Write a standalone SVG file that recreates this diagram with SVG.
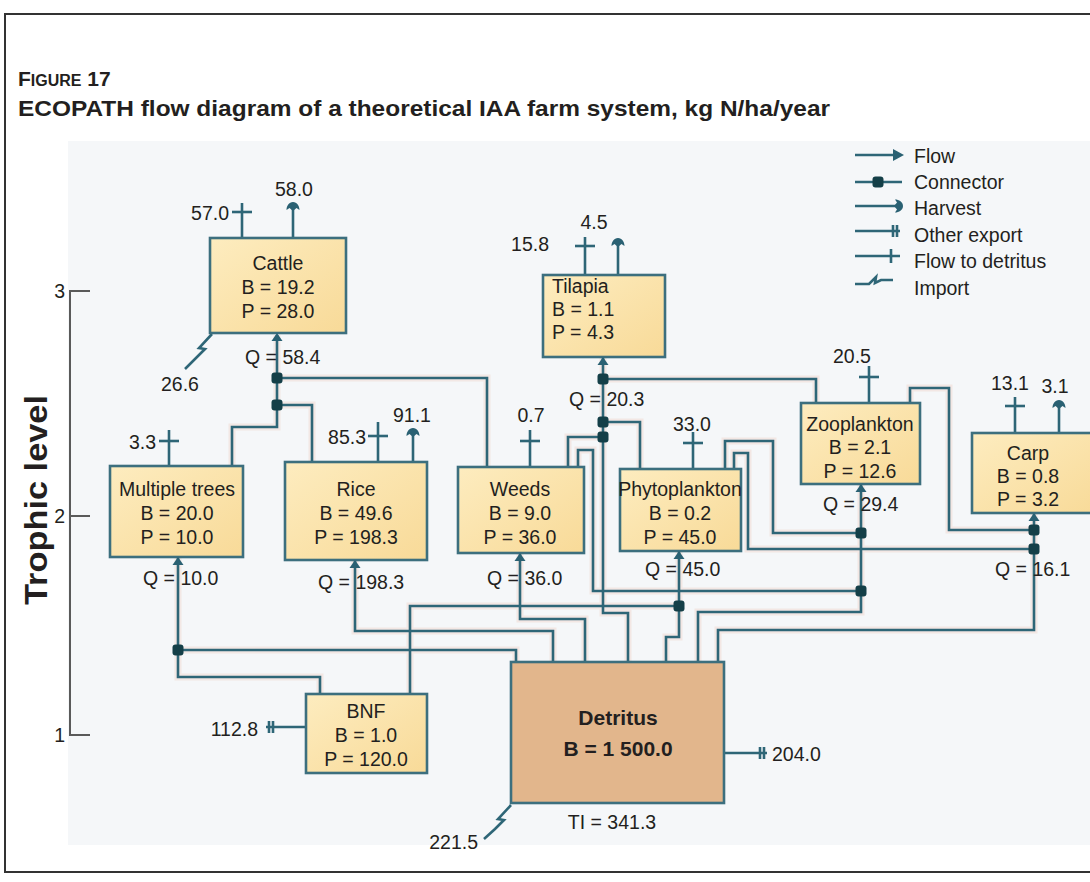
<svg xmlns="http://www.w3.org/2000/svg" width="1090" height="882" viewBox="0 0 1090 882">
  <style>
    .t { font-family: "Liberation Sans", Arial, sans-serif; font-size: 19.5px; fill: #231f20; }
    .b { font-weight: bold; }
    .c { text-anchor: middle; }
    .e { text-anchor: end; }
    .ln { fill: none; stroke: #2e6677; stroke-width: 2.6; }
    .halo { fill: none; stroke: #f2d9d1; stroke-width: 7; opacity: 0.5; }
    .box { fill: url(#boxFill); stroke: #3c6f7e; stroke-width: 2.6; }
    .det { fill: #e2b68c; stroke: #3c6f7e; stroke-width: 2.6; }
    .dot { fill: #143f48; }
    .hd { fill: #2a6173; }
    .ax { fill: none; stroke: #5a5a5a; stroke-width: 2; }
  </style>
  <defs>
    <linearGradient id="boxFill" x1="0" y1="0" x2="1" y2="1">
      <stop offset="0" stop-color="#fdecbf"/>
      <stop offset="1" stop-color="#f8da98"/>
    </linearGradient>
    <!-- connector node -->
    <rect id="dot" class="dot" x="-5.5" y="-5.5" width="11" height="11" rx="3"/>
    <!-- consumption arrowhead, tip at origin, pointing up -->
    <path id="qarr" class="hd" d="M0,0 L-5.5,8 L5.5,8 Z"/>
    <!-- harvest head, tip at origin, pointing up -->
    <path id="harv" class="hd" d="M0,0 C4,0 6.5,4 6.5,8 L3.5,6 L0,9 L-3.5,6 L-6.5,8 C-6.5,4 -4,0 0,0 Z"/>
    <!-- flow-to-detritus bar -->
    <path id="tick" class="ln" d="M-10,0 H10"/>
    <!-- other-export double bar on a horizontal line -->
    <path id="dtick" class="ln" d="M-2,-6 V6 M2,-6 V6"/>
  </defs>

  <!-- page frame and panel -->
  <rect x="0" y="0" width="1090" height="882" fill="#ffffff"/>
  <path d="M1092,14 H5 V872 H1092" fill="none" stroke="#333" stroke-width="2"/>
  <rect x="68" y="141" width="1024" height="704" fill="#f5f7f9"/>

  <!-- caption -->
  <g id="caption">
    <text class="t b" x="18" y="86" style="font-size:21px"><tspan>F</tspan><tspan style="font-size:16px">IGURE</tspan> 17</text>
    <text class="t b" x="18" y="116" style="font-size:21.5px" textLength="812" lengthAdjust="spacingAndGlyphs">ECOPATH flow diagram of a theoretical IAA farm system, kg N/ha/year</text>
  </g>

  <!-- trophic level axis -->
  <g id="axis">
    <path class="ax" d="M90,291 H70 V735 H90 M70,516 H90"/>
    <text class="t e" x="65" y="298">3</text>
    <text class="t e" x="65" y="523">2</text>
    <text class="t e" x="65" y="742">1</text>
    <text class="t b c" transform="translate(47,500) rotate(-90)" style="font-size:31px" textLength="210" lengthAdjust="spacingAndGlyphs">Trophic level</text>
  </g>

  <!-- legend -->
  <g id="legend">
    <path class="ln" d="M855,155 H896"/>
    <path class="hd" d="M904,155 L893,149 L893,161 Z"/>
    <path class="ln" d="M855,182 H902"/>
    <use href="#dot" x="878" y="182"/>
    <path class="ln" d="M855,206 H896"/>
    <use href="#harv" transform="translate(903,206) rotate(90)"/>
    <path class="ln" d="M855,231 H900"/>
    <use href="#dtick" x="895" y="231"/>
    <path class="ln" d="M855,256 H900"/>
    <path class="ln" d="M891,249 V263"/>
    <path class="ln" d="M855,284 H869 L876,277 L875,283 L881,280 H893"/>
    <text class="t" x="914" y="163">Flow</text>
    <text class="t" x="914" y="189">Connector</text>
    <text class="t" x="914" y="215">Harvest</text>
    <text class="t" x="914" y="242">Other export</text>
    <text class="t" x="914" y="268">Flow to detritus</text>
    <text class="t" x="914" y="295">Import</text>
  </g>

  <!-- connectors -->
  <g id="connectors">
    <g class="halo">
      <path d="M277,335 V427 H232 V466 M277,378 H487 V467 M277,405 H312 V462"/>
      <path d="M603,358 V613 H628 V662 M603,379 H816 V403 M603,422 H640 V469 M603,437 H568 V467"/>
      <path d="M578,467 V450 H593 V591 H861 M725,469 V441 H773 V533 H861 M734,469 V453 H748 V549 H1034"/>
      <path d="M861,485 V612 H698 V662 M910,403 V388 H949 V530 H1034 M1034,514 V630 H718 V662"/>
      <path d="M679,552 V637 H666 V662 M410,694 V606 H679 M520,554 V619 H585 V662 M355,561 V631 H553 V662"/>
      <path d="M178,558 V677 H320 V694 M178,650 H516 V662"/>
    </g>
    <g class="ln">
      <!-- cattle feeding -->
      <path d="M277,335 V427 H232 V466"/>
      <path d="M277,378 H487 V467"/>
      <path d="M277,405 H312 V462"/>
      <!-- tilapia feeding -->
      <path d="M603,358 V613 H628 V662"/>
      <path d="M603,379 H816 V403"/>
      <path d="M603,422 H640 V469"/>
      <path d="M603,437 H568 V467"/>
      <!-- weeds / phytoplankton to consumers -->
      <path d="M578,467 V450 H593 V591 H861"/>
      <path d="M725,469 V441 H773 V533 H861"/>
      <path d="M734,469 V453 H748 V549 H1034"/>
      <!-- zooplankton and carp -->
      <path d="M861,485 V612 H698 V662"/>
      <path d="M910,403 V388 H949 V530 H1034"/>
      <path d="M1034,514 V630 H718 V662"/>
      <!-- producers from detritus -->
      <path d="M679,552 V637 H666 V662"/>
      <path d="M410,694 V606 H679"/>
      <path d="M520,554 V619 H585 V662"/>
      <path d="M355,561 V631 H553 V662"/>
      <path d="M178,558 V677 H320 V694"/>
      <path d="M178,650 H516 V662"/>
      <!-- flows to detritus, harvests and exports -->
      <path d="M242,238 V203 M293,238 V208"/>
      <path d="M585,275 V237 M618,275 V244"/>
      <path d="M169,466 V430 M378,462 V422 M413,462 V434"/>
      <path d="M530,467 V430 M693,469 V432 M869,403 V366"/>
      <path d="M1015,433 V397 M1059,433 V406"/>
      <path d="M306,727 H266 M724,753 H767"/>
      <!-- imports -->
      <path d="M212,334 L199,348 L205,349 L196,358 L185,369"/>
      <path d="M511,805 L498,819 L504,820 L495,829 L484,839"/>
    </g>
    <!-- bars -->
    <use href="#tick" x="242" y="212"/>
    <use href="#tick" x="585" y="246"/>
    <use href="#tick" x="169" y="441"/>
    <use href="#tick" x="378" y="436"/>
    <use href="#tick" x="530" y="441"/>
    <use href="#tick" x="693" y="443"/>
    <use href="#tick" x="869" y="377"/>
    <use href="#tick" x="1015" y="406"/>
    <use href="#dtick" x="271" y="727"/>
    <use href="#dtick" x="762" y="753"/>
    <!-- harvest heads -->
    <use href="#harv" x="293" y="202"/>
    <use href="#harv" x="618" y="238"/>
    <use href="#harv" x="413" y="428"/>
    <use href="#harv" x="1059" y="400"/>
    <!-- connector nodes -->
    <use href="#dot" x="277" y="378"/>
    <use href="#dot" x="277" y="405"/>
    <use href="#dot" x="603" y="379"/>
    <use href="#dot" x="603" y="422"/>
    <use href="#dot" x="603" y="437"/>
    <use href="#dot" x="861" y="533"/>
    <use href="#dot" x="861" y="591"/>
    <use href="#dot" x="1034" y="530"/>
    <use href="#dot" x="1034" y="549"/>
    <use href="#dot" x="679" y="606"/>
    <use href="#dot" x="178" y="650"/>
  </g>

  <!-- groups -->
  <g id="cattle">
    <rect class="box" x="210" y="238" width="136" height="95"/>
    <use href="#qarr" x="277" y="333"/>
    <text class="t c" x="278" y="270">Cattle</text>
    <text class="t c" x="278" y="294">B = 19.2</text>
    <text class="t c" x="278" y="318">P = 28.0</text>
    <text class="t e" x="229" y="220">57.0</text>
    <text class="t c" x="294" y="196">58.0</text>
    <text class="t" x="161" y="391">26.6</text>
    <text class="t" x="245" y="364">Q = 58.4</text>
  </g>

  <g id="tilapia">
    <rect class="box" x="543" y="275" width="122" height="82"/>
    <use href="#qarr" x="603" y="357"/>
    <text class="t" x="552" y="293">Tilapia</text>
    <text class="t" x="552" y="316">B = 1.1</text>
    <text class="t" x="552" y="339">P = 4.3</text>
    <text class="t e" x="549" y="251">15.8</text>
    <text class="t c" x="594" y="229">4.5</text>
    <text class="t" x="569" y="406">Q = 20.3</text>
  </g>

  <g id="multiple-trees">
    <rect class="box" x="110" y="466" width="133" height="91"/>
    <use href="#qarr" x="178" y="557"/>
    <text class="t c" x="177" y="496">Multiple trees</text>
    <text class="t c" x="177" y="520">B = 20.0</text>
    <text class="t c" x="177" y="544">P = 10.0</text>
    <text class="t e" x="156" y="449">3.3</text>
    <text class="t" x="143" y="585">Q = 10.0</text>
  </g>

  <g id="rice">
    <rect class="box" x="285" y="462" width="142" height="98"/>
    <use href="#qarr" x="355" y="560"/>
    <text class="t c" x="356" y="496">Rice</text>
    <text class="t c" x="356" y="520">B = 49.6</text>
    <text class="t c" x="356" y="544">P = 198.3</text>
    <text class="t e" x="366" y="444">85.3</text>
    <text class="t c" x="412" y="422">91.1</text>
    <text class="t" x="318" y="589">Q = 198.3</text>
  </g>

  <g id="weeds">
    <rect class="box" x="458" y="467" width="126" height="86"/>
    <use href="#qarr" x="520" y="553"/>
    <text class="t c" x="520" y="496">Weeds</text>
    <text class="t c" x="520" y="520">B = 9.0</text>
    <text class="t c" x="520" y="544">P = 36.0</text>
    <text class="t c" x="531" y="422">0.7</text>
    <text class="t" x="487" y="585">Q = 36.0</text>
  </g>

  <g id="phytoplankton">
    <rect class="box" x="620" y="469" width="121" height="82"/>
    <use href="#qarr" x="679" y="551"/>
    <text class="t c" x="680" y="496">Phytoplankton</text>
    <text class="t c" x="680" y="520">B = 0.2</text>
    <text class="t c" x="680" y="544">P = 45.0</text>
    <text class="t c" x="692" y="431">33.0</text>
    <text class="t" x="645" y="576">Q = 45.0</text>
  </g>

  <g id="zooplankton">
    <rect class="box" x="801" y="403" width="119" height="81"/>
    <use href="#qarr" x="861" y="484"/>
    <text class="t c" x="860" y="431">Zooplankton</text>
    <text class="t c" x="860" y="454">B = 2.1</text>
    <text class="t c" x="860" y="478">P = 12.6</text>
    <text class="t c" x="852" y="363">20.5</text>
    <text class="t" x="823" y="511">Q = 29.4</text>
  </g>

  <g id="carp">
    <rect class="box" x="972" y="433" width="126" height="80"/>
    <use href="#qarr" x="1034" y="513"/>
    <text class="t c" x="1028" y="460">Carp</text>
    <text class="t c" x="1028" y="483">B = 0.8</text>
    <text class="t c" x="1028" y="506">P = 3.2</text>
    <text class="t c" x="1010" y="390">13.1</text>
    <text class="t c" x="1055" y="393">3.1</text>
    <text class="t" x="995" y="576">Q = 16.1</text>
  </g>

  <g id="bnf">
    <rect class="box" x="306" y="694" width="121" height="79"/>
    <text class="t c" x="366" y="718">BNF</text>
    <text class="t c" x="366" y="742">B = 1.0</text>
    <text class="t c" x="366" y="766">P = 120.0</text>
    <text class="t e" x="258" y="736">112.8</text>
  </g>

  <g id="detritus">
    <rect class="det" x="511" y="662" width="213" height="141"/>
    <text class="t b c" x="618" y="725" style="font-size:21px">Detritus</text>
    <text class="t b c" x="618" y="756" style="font-size:21px">B = 1 500.0</text>
    <text class="t" x="772" y="761">204.0</text>
    <text class="t c" x="612" y="829">TI = 341.3</text>
    <text class="t e" x="478" y="849">221.5</text>
  </g>
</svg>
